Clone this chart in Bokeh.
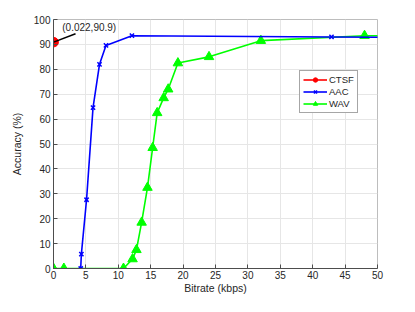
from bokeh.plotting import figure
from bokeh.models import Range1d, FixedTicker, Legend, LegendItem
from bokeh.core.properties import value
from bokeh.embed import file_html
from bokeh.resources import INLINE

# Data
ctsf_x = [0.022]
ctsf_y = [90.9]
aac_x = [4.2, 4.3, 5.1, 6.1, 7.1, 8.1, 12.1, 42.9, 64.0]
aac_y = [0.0, 5.8, 27.6, 64.6, 82.0, 89.6, 93.5, 93.0, 92.6]
wav_x = [0.0, 1.6, 10.8, 12.2, 12.8, 13.6, 14.5, 15.3, 16.0, 17.0, 17.7, 19.2, 24.0, 32.0, 48.0, 64.0]
wav_y = [0.0, 0.0, 0.0, 3.8, 7.5, 18.5, 32.5, 48.5, 62.5, 68.5, 72.0, 82.5, 85.0, 91.5, 93.5, 93.5]
x_ticks = [0, 5, 10, 15, 20, 25, 30, 35, 40, 45, 50]
y_ticks = [0, 10, 20, 30, 40, 50, 60, 70, 80, 90, 100]
annot_text = ["(0.022,90.9)"]
annot_x = [1.35]
annot_y = [96.7]
lead_x = [0.022, 3.4]
lead_y = [90.9, 94.3]

FONT = "Liberation Sans"
TXT = "#262626"

p = figure(width=399, height=296, output_backend="svg", toolbar_location=None,
           x_range=Range1d(0, 50), y_range=Range1d(0, 100),
           min_border_left=53, min_border_right=22, min_border_top=19, min_border_bottom=27)
p.background_fill_color = "white"
p.border_fill_color = "white"
p.outline_line_color = "#bdbdbd"
p.outline_line_width = 1

for ax in (p.xaxis[0], p.yaxis[0]):
    ax.major_label_text_font = FONT
    ax.major_label_text_font_size = "10px"
    ax.major_label_text_color = TXT
    ax.axis_label_text_font = FONT
    ax.axis_label_text_font_size = "10.5px"
    ax.axis_label_text_font_style = "normal"
    ax.axis_label_text_color = TXT
    ax.axis_line_color = "#4d4d4d"
    ax.major_tick_line_color = "#4d4d4d"
    ax.major_tick_in = 4
    ax.major_tick_out = 0
    ax.minor_tick_line_color = None

p.xaxis.ticker = FixedTicker(ticks=x_ticks)
p.yaxis.ticker = FixedTicker(ticks=y_ticks)
p.xaxis.axis_label = "Bitrate (kbps)"
p.yaxis.axis_label = "Accuracy (%)"
p.xaxis.major_label_standoff = 2
p.xaxis.axis_label_standoff = 0
p.yaxis.major_label_standoff = 3
p.yaxis.axis_label_standoff = 8

p.xgrid.ticker = FixedTicker(ticks=x_ticks)
p.ygrid.ticker = FixedTicker(ticks=y_ticks)
p.grid.grid_line_color = "#e6e6e6"
p.grid.grid_line_width = 1

# Series
wav_l = p.line(wav_x, wav_y, line_color="#00ff00", line_width=1.6)
wav_m = p.scatter(wav_x, wav_y, marker="triangle", size=9.5, fill_color="#00ff00", line_color="#00ff00")
aac_l = p.line(aac_x, aac_y, line_color="#0000ff", line_width=1.6)
aac_m = p.scatter(aac_x, aac_y, marker="x", size=6, line_color="#0000ff", line_width=1.5)
ctsf_l = p.line(ctsf_x, ctsf_y, line_color="#ff0000", line_width=1.6)
ctsf_m = p.scatter(ctsf_x, ctsf_y, marker="circle", size=9.5, fill_color="#ff0000", line_color="#ff0000")

# Annotation
p.line(lead_x, lead_y, line_color="black", line_width=1.5)
p.text(annot_x, annot_y, text=annot_text, text_font=value(FONT), text_font_size="10px",
       text_color=TXT, text_baseline="middle", text_align="left")

legend = Legend(items=[
    LegendItem(label="CTSF", renderers=[ctsf_l, ctsf_m]),
    LegendItem(label="AAC", renderers=[aac_l, aac_m]),
    LegendItem(label="WAV", renderers=[wav_l, wav_m]),
], location=(246, 155))
legend.label_text_font = FONT
legend.label_text_font_size = "9.5px"
legend.label_text_color = TXT
legend.glyph_width = 24
legend.glyph_height = 11
legend.label_height = 11
legend.spacing = 1
legend.padding = 3
legend.margin = 0
legend.label_standoff = 2
legend.border_line_color = "#4d4d4d"
legend.border_line_width = 1
legend.background_fill_alpha = 1
p.add_layout(legend, "center")

open("out.html", "w").write(file_html(p, INLINE))
